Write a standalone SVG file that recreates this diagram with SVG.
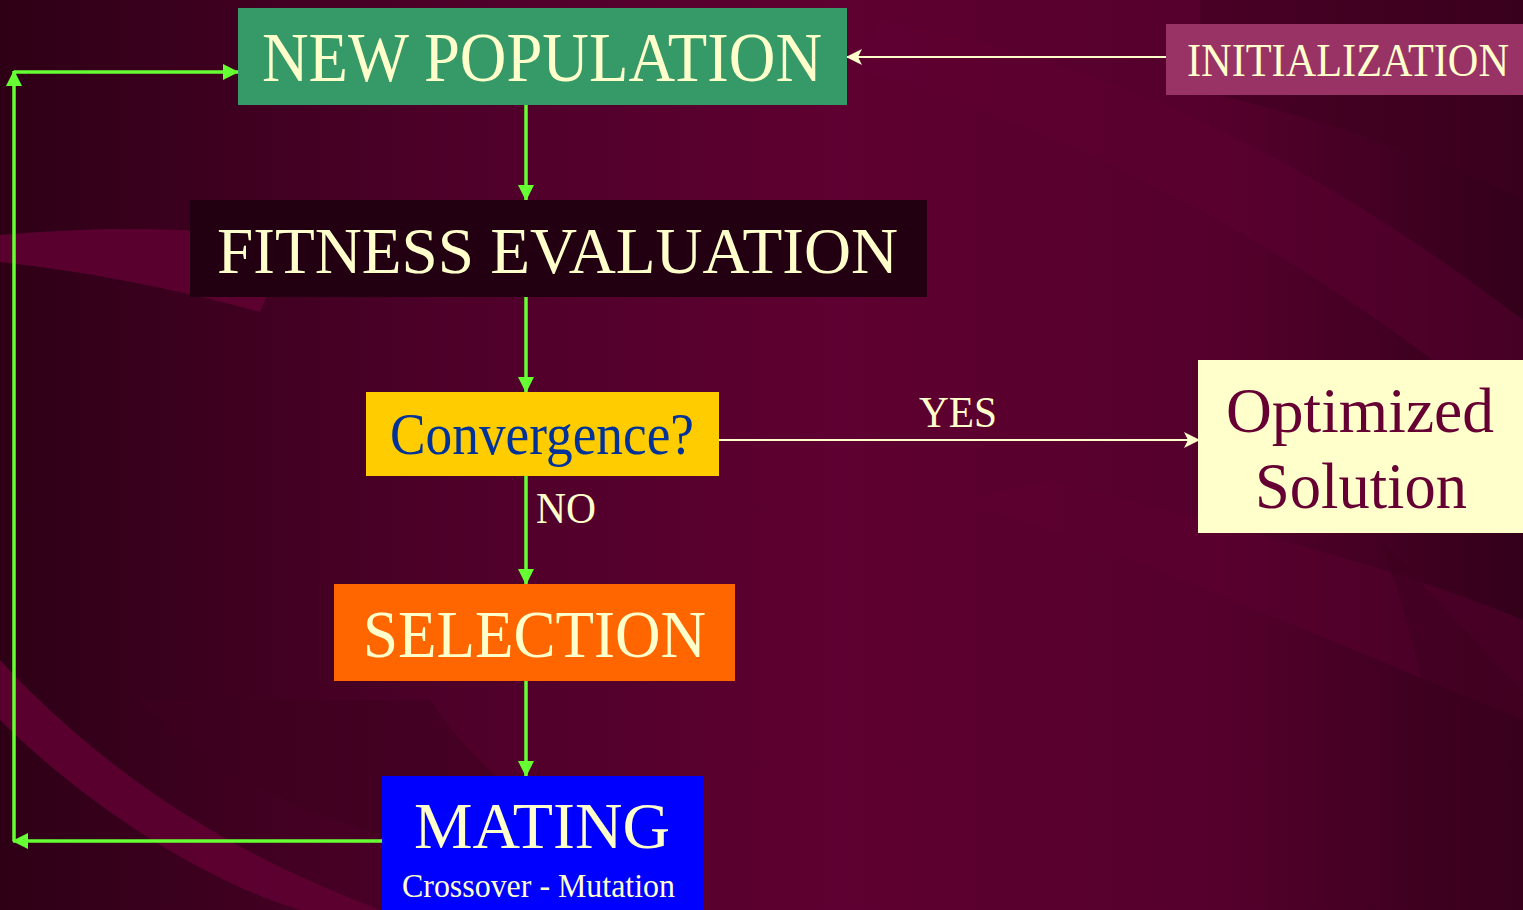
<svg xmlns="http://www.w3.org/2000/svg" width="1523" height="910" viewBox="0 0 1523 910">
<defs>
<linearGradient id="bg" x1="0" y1="0" x2="1" y2="0">
<stop offset="0" stop-color="#2E0016"/>
<stop offset="0.3" stop-color="#4E0029"/>
<stop offset="0.55" stop-color="#5E0031"/>
<stop offset="0.8" stop-color="#55002C"/>
<stop offset="1" stop-color="#33001A"/>
</linearGradient>
<marker id="ag" viewBox="0 0 16 16" refX="15" refY="8" markerWidth="16" markerHeight="16" markerUnits="userSpaceOnUse" orient="auto">
<path d="M0,0 L16,8 L0,16 Z" fill="#66FF33"/>
</marker>
<marker id="ac" viewBox="0 0 16 16" refX="15" refY="8" markerWidth="16" markerHeight="16" markerUnits="userSpaceOnUse" orient="auto">
<path d="M0,0 L16,8 L0,16 L4,8 Z" fill="#FFFFCC"/>
</marker>
</defs>
<style>
text{font-family:"Liberation Serif","Times New Roman","DejaVu Serif",serif;}
.cream{fill:#FFFFCC;}
.g{stroke:#66FF33;stroke-width:3.5;fill:none;}
.c{stroke:#FFFFCC;stroke-width:2;fill:none;}
.sw{fill:#600033;}
.dk{fill:#3E001F;opacity:0.55;}
</style>
<rect width="1523" height="910" fill="url(#bg)"/>
<g id="background">
<path class="sw" d="M0,235 C120,225 200,228 300,240 C280,260 270,290 260,312 C180,290 90,272 0,262 Z" opacity="0.85"/>
<path class="sw" d="M0,720 C80,800 200,880 300,910 L380,910 C250,860 120,790 0,660 Z" opacity="0.85"/>
<path class="sw" d="M880,20 C1100,60 1300,150 1523,320 L1523,430 C1300,250 1100,140 860,70 Z" opacity="0.45"/>
<path class="sw" d="M960,500 C1150,560 1350,650 1523,720 L1523,620 C1380,560 1200,520 1050,480 Z" opacity="0.4"/>
<path class="dk" d="M1200,0 L1523,0 L1523,200 C1420,150 1320,120 1200,90 Z"/>
<path class="dk" d="M1380,540 C1440,600 1490,660 1523,690 L1523,910 L1420,910 C1460,800 1420,650 1380,540 Z"/>
<path class="dk" d="M140,700 C260,820 450,870 600,860 C520,800 470,760 430,700 Z" opacity="0.4"/>
</g>
<g id="connectors">
<line class="g" x1="526" y1="105" x2="526" y2="200" marker-end="url(#ag)"/>
<line class="g" x1="526" y1="297" x2="526" y2="392" marker-end="url(#ag)"/>
<line class="g" x1="526" y1="476" x2="526" y2="584" marker-end="url(#ag)"/>
<line class="g" x1="526" y1="681" x2="526" y2="776" marker-end="url(#ag)"/>
<line class="g" x1="382" y1="841" x2="13" y2="841" marker-end="url(#ag)"/>
<line class="g" x1="14" y1="841" x2="14" y2="71" marker-end="url(#ag)"/>
<line class="g" x1="14" y1="72" x2="238" y2="72" marker-end="url(#ag)"/>
<line class="c" x1="1166" y1="57" x2="847" y2="57" marker-end="url(#ac)"/>
<line class="c" x1="719" y1="440" x2="1199" y2="440" marker-end="url(#ac)"/>
<text class="cream" x="536" y="523" font-size="44" textLength="60" lengthAdjust="spacingAndGlyphs">NO</text>
<text class="cream" x="919" y="427" font-size="44" textLength="78" lengthAdjust="spacingAndGlyphs">YES</text>
</g>
<g id="new-population">
<rect x="238" y="8" width="609" height="97" fill="#369968"/>
<text class="cream" x="262" y="81" font-size="69" textLength="560" lengthAdjust="spacingAndGlyphs">NEW POPULATION</text>
</g>
<g id="initialization">
<rect x="1166" y="24" width="357" height="71" fill="#993366"/>
<text class="cream" x="1187" y="76" font-size="46" textLength="322" lengthAdjust="spacingAndGlyphs">INITIALIZATION</text>
</g>
<g id="fitness-evaluation">
<rect x="190" y="200" width="737" height="97" fill="#220011"/>
<text class="cream" x="217" y="273" font-size="66" textLength="681" lengthAdjust="spacingAndGlyphs">FITNESS EVALUATION</text>
</g>
<g id="convergence">
<rect x="366" y="392" width="353" height="84" fill="#FFCC00"/>
<text x="390" y="454" font-size="59" fill="#003399" textLength="304" lengthAdjust="spacingAndGlyphs">Convergence?</text>
</g>
<g id="optimized-solution">
<rect x="1198" y="360" width="325" height="173" fill="#FFFFCC"/>
<text x="1226" y="432" font-size="64" fill="#660033" textLength="268" lengthAdjust="spacingAndGlyphs">Optimized</text>
<text x="1255" y="508" font-size="65" fill="#660033" textLength="212" lengthAdjust="spacingAndGlyphs">Solution</text>
</g>
<g id="selection">
<rect x="334" y="584" width="401" height="97" fill="#FF6600"/>
<text class="cream" x="363" y="657" font-size="68" textLength="343" lengthAdjust="spacingAndGlyphs">SELECTION</text>
</g>
<g id="mating">
<rect x="382" y="776" width="321" height="134" fill="#0000FF"/>
<text class="cream" x="414" y="848" font-size="65" textLength="256" lengthAdjust="spacingAndGlyphs">MATING</text>
<text class="cream" x="402" y="897" font-size="33" textLength="273" lengthAdjust="spacingAndGlyphs">Crossover - Mutation</text>
</g>
</svg>
